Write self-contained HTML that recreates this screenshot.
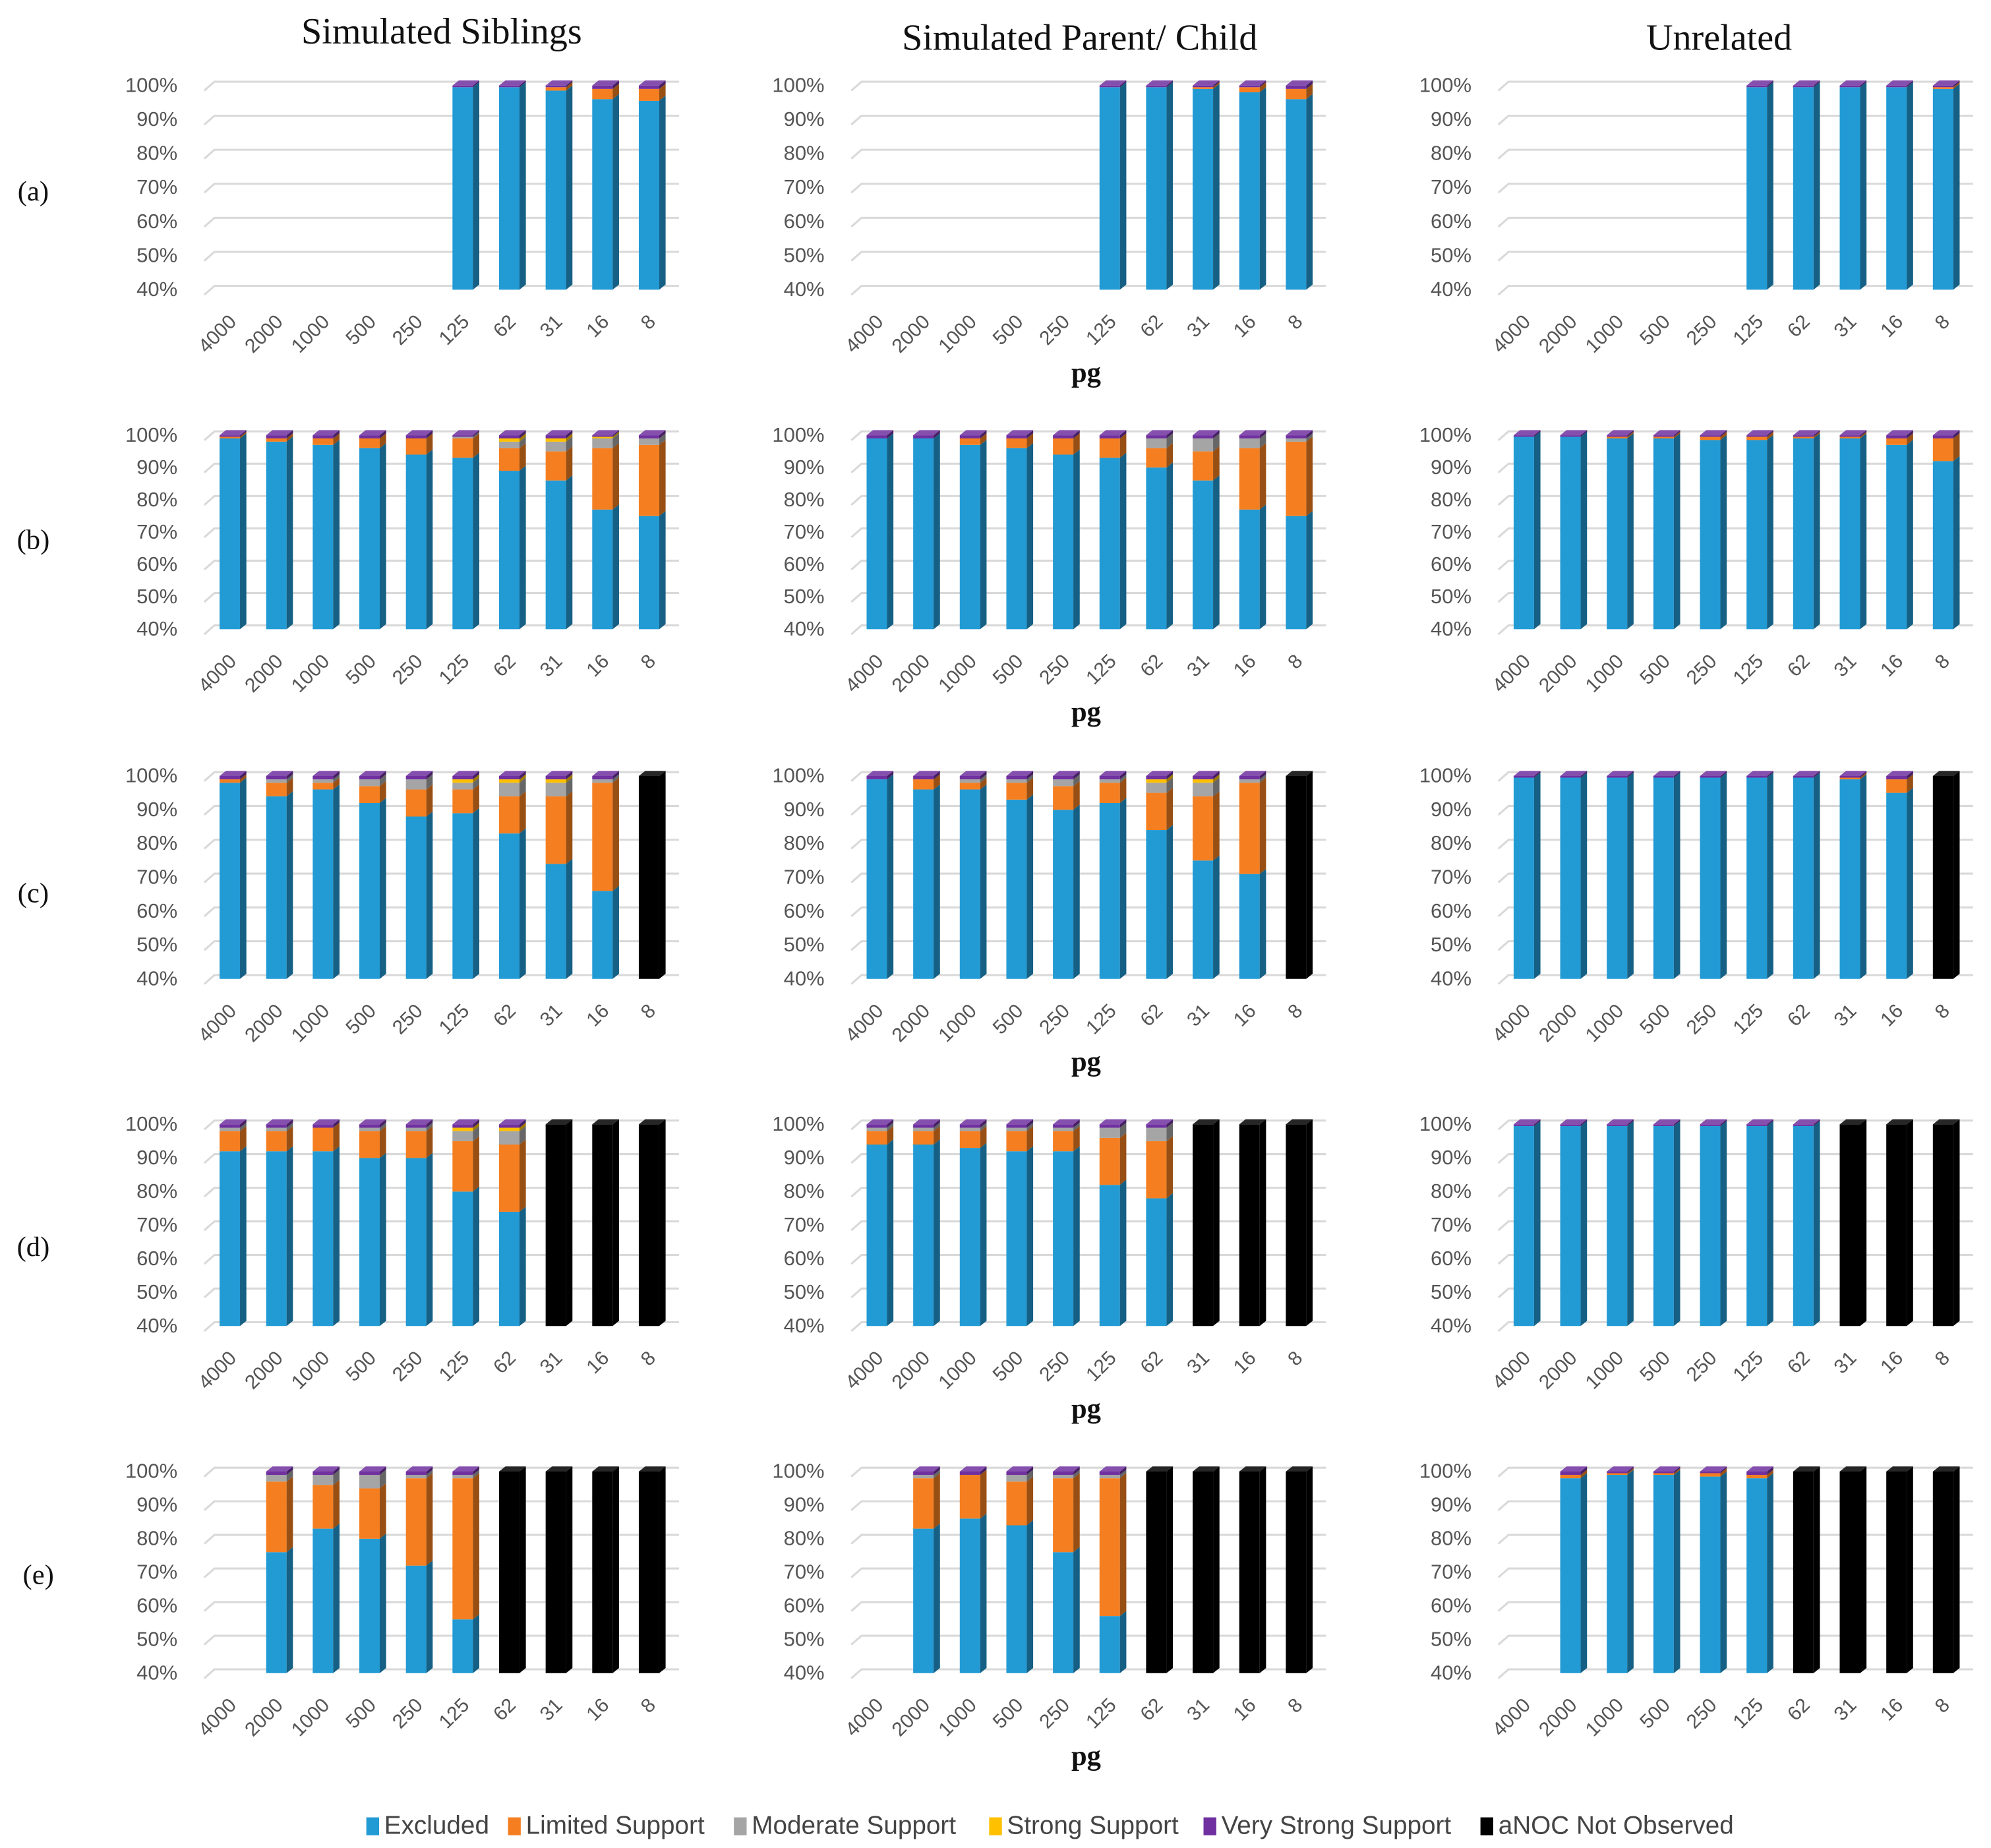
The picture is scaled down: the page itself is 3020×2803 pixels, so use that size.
<!DOCTYPE html>
<html><head><meta charset="utf-8"><style>
html,body{margin:0;padding:0;background:#fff;}
svg{display:block;}
</style></head><body>
<svg id="fig" width="3020" height="2803" viewBox="0 0 1560 1448" xmlns="http://www.w3.org/2000/svg">
<rect x="0" y="0" width="1560" height="1448" fill="#fff"/>
<g font-family="'Liberation Serif', serif" fill="#111">
<text x="346" y="34" font-size="29" text-anchor="middle">Simulated Siblings</text>
<text x="846" y="39" font-size="29" text-anchor="middle">Simulated Parent/ Child</text>
<text x="1347" y="39" font-size="29" text-anchor="middle">Unrelated</text>
<text x="26" y="157" font-size="22" text-anchor="middle">(a)</text>
<text x="26" y="430" font-size="22" text-anchor="middle">(b)</text>
<text x="26" y="707" font-size="22" text-anchor="middle">(c)</text>
<text x="26" y="984" font-size="22" text-anchor="middle">(d)</text>
<text x="30" y="1241" font-size="22" text-anchor="middle">(e)</text>
</g>
<g id="charts"></g>
<g id="legend" font-family="'Liberation Sans', sans-serif" font-size="20" fill="#444"></g>
</svg>
<script>
const categories = ["4000","2000","1000","500","250","125","62","31","16","8"];
const seriesNames = ["Excluded","Limited Support","Moderate Support","Strong Support","Very Strong Support","aNOC Not Observed"];
const seriesColors = ["#229BD5","#F57F20","#A5A5A5","#FFC000","#7030A0","#000000"];
const yTicks = [40,50,60,70,80,90,100];
const tickLabels = ["40%","50%","60%","70%","80%","90%","100%"];
const N = null;
const aSib = [N,N,N,N,N,[99.5,0,0,0,0.5,0],[99.5,0,0,0,0.5,0],[98.5,1,0,0,0.5,0],[96,3,0,0,1,0],[95.5,3.5,0,0,1,0]];
const aPar = [N,N,N,N,N,[99.5,0,0,0,0.5,0],[99.5,0,0,0,0.5,0],[99,0.5,0,0,0.5,0],[98,1.5,0,0,0.5,0],[96,3,0,0,1,0]];
const aUnr = [N,N,N,N,N,[99.5,0,0,0,0.5,0],[99.5,0,0,0,0.5,0],[99.5,0,0,0,0.5,0],[99.5,0,0,0,0.5,0],[99,0.5,0,0,0.5,0]];
const bSib = [[99,0.5,0,0,0.5,0],[98,1,0,0,1,0],[97,2,0,0,1,0],[96,3,0,0,1,0],[94,5,0,0,1,0],[93,6,0.5,0,0.5,0],[89,7,2,1,1,0],[86,9,3,1,1,0],[77,19,3,0.5,0.5,0],[75,22,2,0,1,0]];
const bPar = [[99,0,0,0,1,0],[99,0,0,0,1,0],[97,2,0,0,1,0],[96,3,0,0,1,0],[94,5,0,0,1,0],[93,6,0,0,1,0],[90,6,3,0,1,0],[86,9,4,0,1,0],[77,19,3,0,1,0],[75,23,1,0,1,0]];
const bUnr = [[99.5,0,0,0,0.5,0],[99.5,0,0,0,0.5,0],[99,0.5,0,0,0.5,0],[99,0.5,0,0,0.5,0],[98.5,1,0,0,0.5,0],[98.5,1,0,0,0.5,0],[99,0.5,0,0,0.5,0],[99,0.5,0,0,0.5,0],[97,2,0,0,1,0],[92,7,0,0,1,0]];
const cSib = [[98,1,0,0,1,0],[94,4,1,0,1,0],[96,2,1,0,1,0],[92,5,2,0,1,0],[88,8,3,0,1,0],[89,7,2,1,1,0],[83,11,4,1,1,0],[74,20,4,1,1,0],[66,32,1,0,1,0],[0,0,0,0,0,100]];
const cPar = [[99,0,0,0,1,0],[96,3,0,0,1,0],[96,2,1,0,1,0],[93,5,1,0,1,0],[90,7,2,0,1,0],[92,6,1,0,1,0],[84,11,3,1,1,0],[75,19,4,1,1,0],[71,27,1,0,1,0],[0,0,0,0,0,100]];
const cUnr = [[99.5,0,0,0,0.5,0],[99.5,0,0,0,0.5,0],[99.5,0,0,0,0.5,0],[99.5,0,0,0,0.5,0],[99.5,0,0,0,0.5,0],[99.5,0,0,0,0.5,0],[99.5,0,0,0,0.5,0],[99,0.5,0,0,0.5,0],[95,4,0,0,1,0],[0,0,0,0,0,100]];
const dSib = [[92,6,1,0,1,0],[92,6,1,0,1,0],[92,7,0,0,1,0],[90,8,1,0,1,0],[90,8,1,0,1,0],[80,15,3,1,1,0],[74,20,4,1,1,0],[0,0,0,0,0,100],[0,0,0,0,0,100],[0,0,0,0,0,100]];
const dPar = [[94,4,1,0,1,0],[94,4,1,0,1,0],[93,5,1,0,1,0],[92,6,1,0,1,0],[92,6,1,0,1,0],[82,14,3,0,1,0],[78,17,4,0,1,0],[0,0,0,0,0,100],[0,0,0,0,0,100],[0,0,0,0,0,100]];
const dUnr = [[99.5,0,0,0,0.5,0],[99.5,0,0,0,0.5,0],[99.5,0,0,0,0.5,0],[99.5,0,0,0,0.5,0],[99.5,0,0,0,0.5,0],[99.5,0,0,0,0.5,0],[99.5,0,0,0,0.5,0],[0,0,0,0,0,100],[0,0,0,0,0,100],[0,0,0,0,0,100]];
const eSib = [N,[76,21,2,0,1,0],[83,13,3,0,1,0],[80,15,4,0,1,0],[72,26,1,0,1,0],[56,42,1,0,1,0],[0,0,0,0,0,100],[0,0,0,0,0,100],[0,0,0,0,0,100],[0,0,0,0,0,100]];
const ePar = [N,[83,15,1,0,1,0],[86,13,0,0,1,0],[84,13,2,0,1,0],[76,22,1,0,1,0],[57,41,1,0,1,0],[0,0,0,0,0,100],[0,0,0,0,0,100],[0,0,0,0,0,100],[0,0,0,0,0,100]];
const eUnr = [N,[98,1,0,0,1,0],[99,0.5,0,0,0.5,0],[99,0.5,0,0,0.5,0],[98.5,1,0,0,0.5,0],[98,1,0,0,1,0],[0,0,0,0,0,100],[0,0,0,0,0,100],[0,0,0,0,0,100],[0,0,0,0,0,100]];

const panels = [[aSib,aPar,aUnr],[bSib,bPar,bUnr],[cSib,cPar,cUnr],[dSib,dPar,dUnr],[eSib,ePar,eUnr]];
const rowLetters = ["a","b","c","d","e"];
const colNames = ["siblings","parent-child","unrelated"];

const NS = "http://www.w3.org/2000/svg";
const colX = [172, 679, 1186];
const rowY = [[67,227],[341,493],[608,767],[881,1039],[1153,1311]];
const pitch = 36.5, bw = 16, dx = 5, dy = 4;
const root = document.getElementById("charts");
function mk(tag, attrs, parent){const e=document.createElementNS(NS,tag);for(const k in attrs)e.setAttribute(k,attrs[k]);parent.appendChild(e);return e;}
function shade(hex,f){const n=parseInt(hex.slice(1),16);let r=(n>>16)&255,g=(n>>8)&255,b=n&255;r=Math.round(r*f);g=Math.round(g*f);b=Math.round(b*f);return "rgb("+r+","+g+","+b+")";}
function lighten(hex,f){const n=parseInt(hex.slice(1),16);let r=(n>>16)&255,g=(n>>8)&255,b=n&255;r=Math.round(r+(255-r)*f);g=Math.round(g+(255-g)*f);b=Math.round(b+(255-b)*f);return "rgb("+r+","+g+","+b+")";}

panels.forEach((row, ri) => {
  row.forEach((data, ci) => {
    const g = mk("g", {}, root);
    
    
    const x0 = colX[ci], yT = rowY[ri][0], yB = rowY[ri][1];
    const yScale = v => yB - (v - 40) / 60 * (yB - yT);
    const xBand = i => x0 + i * pitch;
    yTicks.forEach((t, ti) => {
      const y = yScale(t);
      const gl = mk("path", {d:"M"+(x0-12)+","+(y+4)+" L"+(x0-4)+","+(y-3)+" L"+(x0+360)+","+(y-3), fill:"none", stroke:"#d9d9d9", "stroke-width":1.6}, g);
      
      
      const tl = mk("text", {x:x0-33, y:y+5, "font-size":16, "text-anchor":"end", fill:"#555", "font-family":"'Liberation Sans', sans-serif"}, g);
      tl.textContent = tickLabels[ti];
      
      
    });
    categories.forEach((c, i) => {
      const cx = xBand(i) + bw/2;
      const lab = mk("text", {x:cx+6, y:yB+26, "font-size":15.5, "text-anchor":"end", fill:"#555", "font-family":"'Liberation Sans', sans-serif", transform:"rotate(-45 "+(cx+6)+" "+(yB+26)+")"}, g);
      lab.textContent = c;
      
      
      const vals = data[i];
      if (!vals) return;
      let cum = 0, topY = null, topColor = null;
      vals.forEach((v, si) => {
        const a = cum, b = cum + v; cum = b;
        if (v <= 0 || b <= 40) return;
        const lo = Math.max(a, 40);
        const y1 = yScale(b), y0 = yScale(lo);
        const bx = xBand(i);
        const seg = mk("g", {}, g);
        
        
        mk("rect", {x:bx, y:y1, width:bw, height:Math.max(0.6, y0-y1), fill:seriesColors[si]}, seg);
        mk("path", {d:"M"+(bx+bw)+","+y1+" L"+(bx+bw+dx)+","+(y1-dy)+" L"+(bx+bw+dx)+","+(y0-dy)+" L"+(bx+bw)+","+y0+" Z", fill:shade(seriesColors[si],0.62)}, seg);
        topY = y1; topColor = seriesColors[si];
      });
      if (topY !== null) {
        const bx = xBand(i);
        const tp = mk("path", {d:"M"+bx+","+topY+" L"+(bx+dx)+","+(topY-dy)+" L"+(bx+bw+dx)+","+(topY-dy)+" L"+(bx+bw)+","+topY+" Z", fill:lighten(topColor,0.15)}, g);
        
        
      }
    });
    if (ci === 1) {
      const pg = mk("text", {x:x0+172, y:yB+72, "font-size":22, "text-anchor":"middle", fill:"#111", "font-family":"'Liberation Serif', serif", "font-weight":"bold"}, g);
      pg.textContent = "pg";
      
      
    }
  });
});

const lg = document.getElementById("legend");
const legendX = [287, 398, 575, 775, 943, 1160];
seriesNames.forEach((n, i) => {
  const e = mk("g", {}, lg);
  
  
  mk("rect", {x:legendX[i], y:1424, width:10, height:14, fill:seriesColors[i]}, e);
  const t = mk("text", {x:legendX[i]+14, y:1437, "font-size":20, fill:"#444"}, e);
  t.textContent = n;
});
</script>
</body></html>
